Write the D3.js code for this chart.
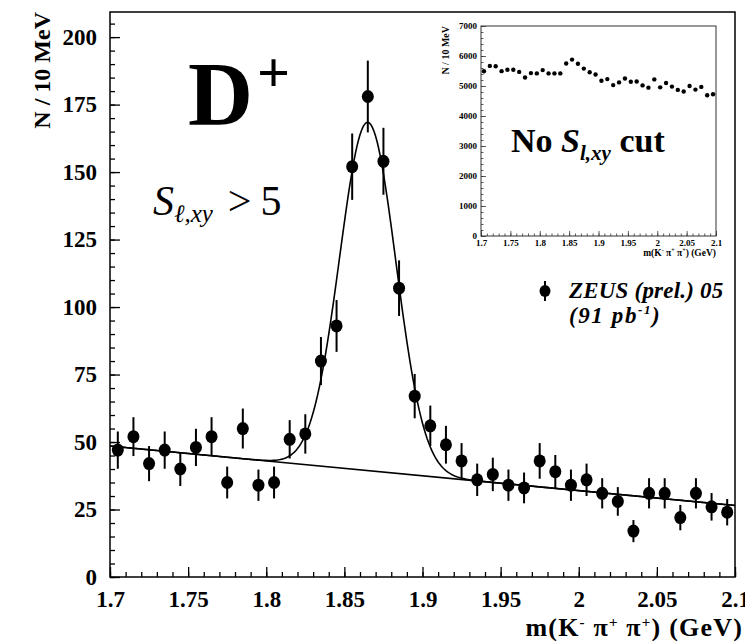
<!DOCTYPE html>
<html>
<head>
<meta charset="utf-8">
<script src="https://cdn.jsdelivr.net/npm/d3@7"></script>
<style>
  body { margin: 0; background: #fff; }
  svg { display: block; font-family: "Liberation Serif", "DejaVu Serif", serif; }
</style>
</head>
<body>
<svg id="chart"></svg>
<script>
// bin centres of m(K- pi+ pi+) in GeV, 10 MeV bins
const massBins = [1.705, 1.715, 1.725, 1.735, 1.745, 1.755, 1.765, 1.775, 1.785, 1.795,
                  1.805, 1.815, 1.825, 1.835, 1.845, 1.855, 1.865, 1.875, 1.885, 1.895,
                  1.905, 1.915, 1.925, 1.935, 1.945, 1.955, 1.965, 1.975, 1.985, 1.995,
                  2.005, 2.015, 2.025, 2.035, 2.045, 2.055, 2.065, 2.075, 2.085, 2.095];
// S_l,xy > 5 sample
const counts = [47, 52, 42, 47, 40, 48, 52, 35, 55, 34,
                35, 51, 53, 80, 93, 152, 178, 154, 107, 67,
                56, 49, 43, 36, 38, 34, 33, 43, 39, 34,
                36, 31, 28, 17, 31, 31, 22, 31, 26, 24];
const errors = [6.9, 7.2, 6.5, 6.9, 6.3, 6.9, 7.2, 5.9, 7.4, 5.8,
                5.9, 7.1, 7.3, 8.9, 9.6, 12.3, 13.3, 12.4, 10.3, 8.2,
                7.5, 7.0, 6.6, 6.0, 6.2, 5.8, 5.7, 6.6, 6.2, 5.8,
                6.0, 5.6, 5.3, 4.1, 5.6, 5.6, 4.7, 5.6, 5.1, 4.9];
// no S_l,xy cut (inset)
const insetCounts = [5490, 5670, 5660, 5495, 5540, 5540, 5470, 5285, 5430, 5420,
                     5530, 5420, 5420, 5420, 5750, 5880, 5740, 5580, 5460, 5385,
                     5175, 5230, 5030, 5120, 5250, 5140, 5150, 5020, 4945, 5220,
                     4955, 5100, 4980, 4870, 4815, 5000, 4880, 4970, 4690, 4725];
// fit: gaussian on a linear background
const bgAt17 = 48.5, bgSlope = -55;
const peakMass = 1.865, peakAmp = 129, peakSigma = 0.018;

const xTicks = [1.7, 1.75, 1.8, 1.85, 1.9, 1.95, 2, 2.05, 2.1];
const yTicks = [0, 25, 50, 75, 100, 125, 150, 175, 200];
const insetYTicks = [0, 1000, 2000, 3000, 4000, 5000, 6000, 7000];

const width = 745, height = 641;
const svg = d3.select("#chart").attr("width", width).attr("height", height);

// ---- main panel ----
const x = d3.scaleLinear().domain([1.7, 2.1]).range([110, 735]);
const y = d3.scaleLinear().domain([0, 209.3]).range([577, 12]);

svg.append("rect")
    .attr("x", 110).attr("y", 12)
    .attr("width", 625).attr("height", 565)
    .attr("fill", "none").attr("stroke", "#000").attr("stroke-width", 1.5);

let fmtX = d => (d === 2 ? "2" : d3.format("")(d));

// minor ticks first, majors on top
svg.append("g").attr("transform", "translate(0,577)")
    .call(d3.axisBottom(x).tickValues(d3.range(1.7, 2.1001, 0.01)).tickSize(-5).tickFormat(""))
    .call(g => g.select(".domain").remove());
svg.append("g").attr("transform", "translate(110,0)")
    .call(d3.axisLeft(y).tickValues(d3.range(0, 206, 5)).tickSize(-5).tickFormat(""))
    .call(g => g.select(".domain").remove());

let xAxis = svg.append("g").attr("transform", "translate(0,577)")
    .call(d3.axisBottom(x).tickValues(xTicks).tickSize(-10).tickPadding(14).tickFormat(fmtX));
xAxis.select(".domain").remove();
xAxis.selectAll("text").attr("font-size", 23).attr("font-weight", "bold")
    .attr("font-family", "Liberation Serif").attr("fill", "#000");

let yAxis = svg.append("g").attr("transform", "translate(110,0)")
    .call(d3.axisLeft(y).tickValues(yTicks).tickSize(-10).tickPadding(13));
yAxis.select(".domain").remove();
yAxis.selectAll("text").attr("font-size", 23).attr("font-weight", "bold")
    .attr("font-family", "Liberation Serif").attr("fill", "#000");
svg.selectAll(".tick line").attr("stroke", "#000").attr("stroke-width", 1.3);

// axis titles
svg.append("text")
    .attr("transform", "translate(50,12) rotate(-90)")
    .attr("text-anchor", "end")
    .attr("font-size", 24).attr("font-weight", "bold")
    .text("N / 10 MeV");

let xt = svg.append("text")
    .attr("x", 743).attr("y", 636)
    .attr("text-anchor", "end")
    .attr("font-size", 26).attr("font-weight", "bold")
    .attr("letter-spacing", 1.2);
xt.append("tspan").text("m(K");
xt.append("tspan").attr("font-size", 15).attr("dy", -9).text("-");
xt.append("tspan").attr("dy", 9).text(" \u03c0");
xt.append("tspan").attr("font-size", 15).attr("dy", -9).text("+");
xt.append("tspan").attr("dy", 9).text(" \u03c0");
xt.append("tspan").attr("font-size", 15).attr("dy", -9).text("+");
xt.append("tspan").attr("dy", 9).text(") (GeV)");

// fit curve
let fitMass = d3.range(1.7, 2.1001, 0.001);
let fitLine = d3.line()
    .x(m => x(m))
    .y(m => y(bgAt17 + bgSlope * (m - 1.7)
        + peakAmp * Math.exp(-Math.pow(m - peakMass, 2) / (2 * peakSigma * peakSigma))));
svg.append("path")
    .datum(fitMass)
    .attr("d", fitLine)
    .attr("fill", "none").attr("stroke", "#000").attr("stroke-width", 1.6);
// background alone
svg.append("line")
    .attr("x1", x(1.7)).attr("y1", y(bgAt17))
    .attr("x2", x(2.1)).attr("y2", y(bgAt17 + bgSlope * 0.4))
    .attr("stroke", "#000").attr("stroke-width", 1.6);

// data points
let points = massBins.map((m, i) => ({ m: m, n: counts[i], e: errors[i] }));
let pts = svg.append("g");
pts.selectAll("line")
    .data(points)
    .enter().append("line")
    .attr("x1", d => x(d.m)).attr("x2", d => x(d.m))
    .attr("y1", d => y(d.n - d.e)).attr("y2", d => y(d.n + d.e))
    .attr("stroke", "#000").attr("stroke-width", 2);
pts.selectAll("ellipse")
    .data(points)
    .enter().append("ellipse")
    .attr("cx", d => x(d.m)).attr("cy", d => y(d.n))
    .attr("rx", 6).attr("ry", 6.5)
    .attr("fill", "#000");

// labels
let dl = svg.append("text").attr("x", 188).attr("y", 125)
    .attr("font-size", 90).attr("font-weight", "bold");
dl.append("tspan").text("D");
dl.append("tspan").attr("font-size", 58).attr("dy", -33).attr("dx", 4).text("+");

let sl = svg.append("text").attr("x", 153).attr("y", 215)
    .attr("font-size", 42);
sl.append("tspan").attr("font-style", "italic").text("S");
sl.append("tspan").attr("font-style", "italic").attr("font-size", 25).attr("dy", 7).text("\u2113,xy");
sl.append("tspan").attr("dy", -7).attr("dx", 15).text(">");
sl.append("tspan").attr("dx", 9).text("5");

// legend
svg.append("line")
    .attr("x1", 545).attr("x2", 545).attr("y1", 281).attr("y2", 301)
    .attr("stroke", "#000").attr("stroke-width", 2);
svg.append("ellipse")
    .attr("cx", 545).attr("cy", 291).attr("rx", 5.5).attr("ry", 6)
    .attr("fill", "#000");
svg.append("text").attr("x", 569).attr("y", 298)
    .attr("font-size", 23).attr("font-weight", "bold").attr("font-style", "italic")
    .attr("letter-spacing", 0.2)
    .text("ZEUS (prel.) 05");
let lum = svg.append("text").attr("x", 569).attr("y", 323)
    .attr("font-size", 23).attr("font-weight", "bold").attr("font-style", "italic")
    .attr("letter-spacing", 1.6);
lum.append("tspan").text("(91 pb");
lum.append("tspan").attr("font-size", 13).attr("dy", -9).text("-1");
lum.append("tspan").attr("dy", 9).text(")");

// ---- inset panel ----
const ix = d3.scaleLinear().domain([1.7, 2.1]).range([481, 716]);
const iy = d3.scaleLinear().domain([0, 7000]).range([236, 26]);
let inset = svg.append("g");

inset.append("rect")
    .attr("x", 481).attr("y", 26)
    .attr("width", 235).attr("height", 210)
    .attr("fill", "none").attr("stroke", "#333").attr("stroke-width", 1);

inset.append("g").attr("transform", "translate(0,236)")
    .call(d3.axisBottom(ix).tickValues(d3.range(1.7, 2.1001, 0.01)).tickSize(-2.5).tickFormat(""))
    .call(g => g.select(".domain").remove());
inset.append("g").attr("transform", "translate(481,0)")
    .call(d3.axisLeft(iy).tickValues(d3.range(0, 7001, 200)).tickSize(-2.5).tickFormat(""))
    .call(g => g.select(".domain").remove());
let ixAxis = inset.append("g").attr("transform", "translate(0,236)")
    .call(d3.axisBottom(ix).tickValues(xTicks).tickSize(-5).tickPadding(4).tickFormat(fmtX));
ixAxis.select(".domain").remove();
let iyAxis = inset.append("g").attr("transform", "translate(481,0)")
    .call(d3.axisLeft(iy).tickValues(insetYTicks).tickSize(-5).tickPadding(4).tickFormat(d3.format("d")));
iyAxis.select(".domain").remove();
inset.selectAll("text").attr("font-size", 9).attr("font-weight", "bold")
    .attr("font-family", "Liberation Serif").attr("fill", "#000");
inset.selectAll(".tick line").attr("stroke", "#333").attr("stroke-width", 0.8);

inset.append("text")
    .attr("transform", "translate(449,26) rotate(-90)")
    .attr("text-anchor", "end")
    .attr("font-size", 10).attr("font-weight", "bold")
    .text("N / 10 MeV");

let ixt = inset.append("text")
    .attr("x", 716).attr("y", 256)
    .attr("text-anchor", "end")
    .attr("font-size", 9.5).attr("font-weight", "bold");
ixt.append("tspan").text("m(K");
ixt.append("tspan").attr("font-size", 6).attr("dy", -4).text("-");
ixt.append("tspan").attr("dy", 4).text(" \u03c0");
ixt.append("tspan").attr("font-size", 6).attr("dy", -4).text("+");
ixt.append("tspan").attr("dy", 4).text(" \u03c0");
ixt.append("tspan").attr("font-size", 6).attr("dy", -4).text("+");
ixt.append("tspan").attr("dy", 4).text(") (GeV)");

inset.append("g").selectAll("circle")
    .data(massBins.map((m, i) => ({ m: m, n: insetCounts[i] })))
    .enter().append("circle")
    .attr("cx", d => ix(d.m)).attr("cy", d => iy(d.n))
    .attr("r", 2.2).attr("fill", "#000");

let nc = inset.append("text").attr("x", 511).attr("y", 152)
    .attr("font-size", 34).attr("font-weight", "bold");
nc.append("tspan").text("No ");
nc.append("tspan").attr("font-style", "italic").text("S");
nc.append("tspan").attr("font-style", "italic").attr("font-size", 21).attr("dy", 8).text("l,xy");
nc.append("tspan").attr("dy", -8).text(" cut");
</script>
</body>
</html>
